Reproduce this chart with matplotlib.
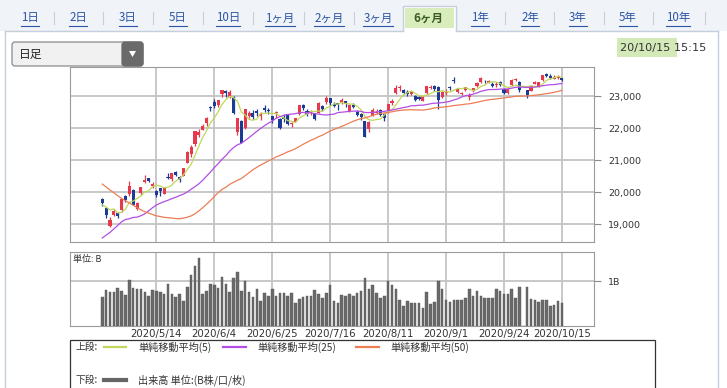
import numpy as np
import pandas as pd
import matplotlib
matplotlib.use('Agg')
import matplotlib.pyplot as plt
from matplotlib.patches import Rectangle, FancyBboxPatch, Polygon
from matplotlib.lines import Line2D
from matplotlib.transforms import IdentityTransform

JP = ['Noto Sans CJK JP', 'DejaVu Sans']
plt.rcParams['font.family'] = ['DejaVu Sans', 'Noto Sans CJK JP']

# ---------------- data ----------------
dates = ['4/20','4/21','4/22','4/23','4/24','4/27','4/28','4/30','5/1','5/7','5/8','5/11','5/12','5/13',
         '5/14','5/15','5/18','5/19','5/20','5/21','5/22','5/25','5/26','5/27','5/28','5/29','6/1','6/2','6/3',
         '6/4','6/5','6/8','6/9','6/10','6/11','6/12','6/15','6/16','6/17','6/18','6/19','6/22','6/23','6/24',
         '6/25','6/26','6/29','6/30','7/1','7/2','7/3','7/6','7/7','7/8','7/9','7/10','7/13','7/14','7/15',
         '7/16','7/17','7/20','7/21','7/22','7/27','7/28','7/29','7/30','7/31','8/3','8/4','8/5','8/6','8/7',
         '8/11','8/12','8/13','8/14','8/17','8/18','8/19','8/20','8/21','8/24','8/25','8/26','8/27','8/28','8/31',
         '9/1','9/2','9/3','9/4','9/7','9/8','9/9','9/10','9/11','9/14','9/15','9/16','9/17','9/18','9/23',
         '9/24','9/25','9/28','9/29','9/30','10/1','10/2','10/5','10/6','10/7','10/8','10/9','10/12','10/13','10/14',
         '10/15']

opens = [19783,19522,18957,19280,19341,19434,19880,19947,20069,19468,19987,20333,20437,20187,
         20049,20120,19959,20470,20419,20622,20475,20505,20919,21179,21520,21800,21954,22164,22664,
         22827,22722,23052,23170,22979,22984,21889,22208,22003,22366,22468,22525,22370,22620,22576,
         22367,22457,22297,22339,22439,22113,22197,22430,22720,22528,22458,22443,22469,22690,22802,
         22931,22739,22775,22780,22833,22520,22730,22515,22425,22209,21960,22381,22474,22567,22442,
         22520,22781,23085,23257,23199,23120,23050,23008,22973,22850,23082,23265,23322,23275,22959,
         23090,23278,23488,23115,23052,23182,22967,23158,23319,23423,23480,23417,23366,23328,23440,
         23230,23089,23346,23494,23445,None,23178,23152,23375,23300,23501,23676,23625,23542,23560,
         23549]
highs = [19836,19551,19220,19493,19395,19783,19912,20365,20099,19701,20179,20534,20460,20317,
         20086,20140,20162,20588,20615,20673,20507,20751,21300,21469,21916,21968,22128,22338,22697,
         22907,22877,23185,23178,23185,23010,22320,22262,22582,22547,22578,22602,22497,22710,22617,
         22381,22520,22319,22437,22446,22190,22323,22724,22765,22582,22561,22478,22800,22733,23008,
         22951,22823,22790,22935,22852,22766,22782,22553,22459,22236,22225,22616,22599,22598,22469,
         22757,22920,23338,23338,23220,23172,23157,23024,23006,22990,23306,23338,23350,23309,23163,
         23210,23302,23580,23245,23114,23291,23100,23251,23432,23582,23505,23492,23429,23422,23456,
         23256,23237,23534,23559,23459,None,23200,23328,23468,23440,23647,23725,23685,23642,23664,
         23574]
lows = [19563,19215,18917,19253,19188,19398,19703,19873,19607,19448,19908,20282,20323,20133,
        19853,19890,19935,20406,20363,20495,20333,20497,20914,21103,21429,21713,21937,22076,22527,
        22622,22657,22980,22954,22935,22448,21787,21529,21976,22312,22279,22384,22245,22504,22438,
        22161,22320,21963,22177,22102,22042,22182,22424,22567,22388,22396,22248,22457,22544,22757,
        22723,22654,22576,22764,22662,22496,22615,22373,22259,21710,21894,22374,22434,22386,22213,
        22467,22707,23076,23149,23060,23008,23020,22835,22888,22830,23056,23230,23150,22604,22940,
        23043,23188,23411,23089,23020,23141,22878,23128,23291,23413,23390,23402,23280,23290,23319,
        23062,23073,23325,23468,23136,None,22948,23145,23361,23277,23479,23591,23520,23530,23521,
        23461]
closes = [19669,19281,19138,19429,19262,19783,19771,20194,19619,19675,20179,20391,20366,20267,
          19915,20037,20134,20433,20595,20552,20388,20742,21271,21419,21916,21878,22062,22326,22614,
          22696,22864,23178,23091,23125,22473,22305,21531,22582,22456,22355,22479,22437,22549,22534,
          22260,22512,21995,22288,22122,22146,22306,22714,22615,22439,22529,22291,22785,22587,22946,
          22770,22696,22717,22884,22752,22716,22657,22397,22339,21710,22195,22574,22515,22418,22330,
          22750,22844,23250,23289,23097,23051,23111,22881,22920,22986,23297,23291,23209,22883,23140,
          23138,23247,23466,23205,23090,23274,23033,23235,23406,23559,23455,23476,23319,23360,23346,
          23088,23205,23512,23539,23185,None,23030,23312,23434,23423,23647,23620,23559,23602,23627,
          23507]
# closes before the window (needed for the moving averages at the left edge)
prior_closes = [23874,23828,23686,23861,23828,23688,23523,23194,23401,23479,23387,22605,22426,21948,
                21143,21344,21083,21100,21329,20750,19699,19867,19416,18560,17431,17002,17012,16727,
                16553,16888,18092,19547,18665,19389,19085,18917,18065,17819,17820,18576,18950,19353,
                19346,19499,19043,19639,19550,19290,19897]
volume_b = [0.65,0.81,0.76,0.75,0.85,0.79,0.70,1.03,0.86,0.84,0.83,0.77,0.68,0.81,
            0.79,0.77,0.72,0.94,0.72,0.64,0.72,0.56,0.87,1.15,1.35,1.54,0.72,0.79,0.94,
            0.91,0.86,1.11,0.94,0.77,1.09,1.22,0.79,1.02,0.75,0.65,0.83,0.56,0.73,0.68,
            0.83,0.68,0.74,0.74,0.68,0.73,0.52,0.61,0.65,0.66,0.66,0.81,0.72,0.63,0.74,
            0.91,0.56,0.50,0.69,0.66,0.72,0.68,0.73,0.79,1.07,0.84,0.91,0.73,0.63,0.68,
            1.00,0.91,0.84,0.59,0.44,0.56,0.52,0.52,0.52,0.40,0.77,0.48,0.53,1.00,0.83,
            0.59,0.53,0.58,0.59,0.58,0.63,0.84,0.67,0.79,0.66,0.62,0.63,0.62,0.82,0.79,
            0.72,0.72,0.82,0.62,0.88,0.0,0.87,0.61,0.58,0.53,0.58,0.58,0.44,0.46,0.56,
            0.50]
tick_dates = ['5/14','6/4','6/25','7/16','8/11','9/1','9/24','10/15']
price_ticks = [19000, 20000, 21000, 22000, 23000]
ma_windows = [5, 25, 50]
ma_labels = ['単純移動平均(5)', '単純移動平均(25)', '単純移動平均(50)']
tab_labels = ['1日','2日','3日','5日','10日','1ヶ月','2ヶ月','3ヶ月','6ヶ月','1年','2年','3年','5年','10年']
selected_tab = '6ヶ月'

# ---------------- styles ----------------
UP = '#e63a4c'
DOWN = '#1c3b96'
MA_COLORS = ['#bfd75a', '#b24ee6', '#ec7d55']
GRID = '#c4c4c4'
VOLC = '#6a6a6a'

W, H = 727, 388
fig = plt.figure(figsize=(W / 100, H / 100), dpi=100)
fig.patch.set_facecolor('white')

def fx(x): return x / W
def fy(y): return 1 - y / H

def frect(x0, y0, x1, y1, **kw):
    r = Rectangle((fx(x0), fy(y1)), (x1 - x0) / W, (y1 - y0) / H, transform=fig.transFigure, **kw)
    fig.add_artist(r)
    return r

def fline(xs, ys, **kw):
    fig.add_artist(Line2D([fx(v) for v in xs], [fy(v) for v in ys], transform=fig.transFigure, **kw))

def ftext(x, y, s, **kw):
    return fig.text(fx(x), fy(y), s, **kw)

# ---- page chrome ----
frect(0, 0, W, 31, fc='#f0f3f7', ec='none', zorder=0)
fline([5, 403], [31, 31], color='#c5cfdc', lw=1)
fline([456, 718], [31, 31], color='#c5cfdc', lw=1)
fline([5, 5], [31, H], color='#c5cfdc', lw=1)
fline([718, 718], [31, H], color='#c5cfdc', lw=1)
frect(403, 6, 456, 31.5, fc='white', ec='none', zorder=1)
fline([403, 403, 456, 456], [31, 6, 6, 31], color='#c5cfdc', lw=1)
frect(405, 8, 454, 28, fc='#d8ecbc', ec='none', zorder=1)

tab_x = [30, 78, 128, 178, 228, 280, 329, 378, 428, 480, 530, 578, 628, 678]
sep_x = [54, 103, 153, 203, 253, 304, 354, None, None, 505, 554, 604, 653, 705]
fig.canvas.draw()
renderer = fig.canvas.get_renderer()
for lab, xc, sx in zip(tab_labels, tab_x, sep_x):
    if lab == selected_tab:
        ftext(xc, 18, lab, ha='center', va='center', fontsize=8.3, family=JP,
              color='#3b5a22', fontweight='bold', zorder=3)
    else:
        t = ftext(xc, 18, lab, ha='center', va='center', fontsize=8.3, family=JP,
                  color='#2b55a6', zorder=3)
        bb = t.get_window_extent(renderer)
        fline([bb.x0, bb.x1], [25.5, 25.5], color='#2b55a6', lw=0.8)
    if sx is not None:
        fline([sx, sx], [12, 24], color='#c9cfd8', lw=0.8)

# dropdown
idt = IdentityTransform()
fig.add_artist(FancyBboxPatch((12, H - 66), 131, 24, boxstyle='round,pad=0,rounding_size=3',
                              fc='#f1f1f1', ec='#8a8a8a', lw=0.9, transform=idt))
fig.add_artist(FancyBboxPatch((122, H - 66), 21, 24, boxstyle='round,pad=0,rounding_size=3',
                              fc='#6a6a6a', ec='#6a6a6a', lw=0.9, transform=idt))
fig.add_artist(Polygon([[129, H - 51], [136, H - 51], [132.5, H - 57]], closed=True,
                       fc='white', ec='none', transform=idt))
ftext(19, 54, '日足', ha='left', va='center', fontsize=8.5, family=JP, color='#222222')

# timestamp
frect(617, 38, 677, 57, fc='#d3eab8', ec='none', zorder=0)
ftext(620, 47.5, '20/10/15 15:15', ha='left', va='center', fontsize=8.1, color='#333333')

# ---------------- axes ----------------
L, R = 70, 594
ax = fig.add_axes([fx(L), fy(242), (R - L) / W, (242 - 67) / H])
axv = fig.add_axes([fx(L), fy(325.5), (R - L) / W, (325.5 - 252) / H])

n = len(dates)
x = np.arange(n)
tick_pos = [dates.index(d) for d in tick_dates]
tick_lab = ['2020/' + d for d in tick_dates]

for a in (ax, axv):
    a.set_xlim(-8.36, 127.3)
    for s in a.spines.values():
        s.set_color('#9a9a9a')
        s.set_linewidth(0.8)
    a.set_xticks(tick_pos)
    a.grid(True, color=GRID, lw=1.3)
    a.set_axisbelow(True)
    a.yaxis.tick_right()

# candles
for i in range(n):
    o, h, l, c = opens[i], highs[i], lows[i], closes[i]
    if o is None:
        continue
    col = UP if c >= o else DOWN
    ax.vlines(i, l, h, color=col, lw=0.9, zorder=3)
    body = max(abs(c - o), 16)
    ax.bar(i, body, bottom=min(o, c), width=0.8, color=col, lw=0, zorder=4)

# moving averages
valid = [i for i in range(n) if closes[i] is not None]
series = pd.Series(prior_closes + [closes[i] for i in valid], dtype=float)
for w, colr in zip(ma_windows, MA_COLORS):
    ma = series.rolling(w).mean().iloc[len(prior_closes):].to_numpy()
    ax.plot(valid, ma, color=colr, lw=0.9, zorder=5)

ax.set_ylim(18452, 23904)
ax.set_yticks(price_ticks)
ax.set_yticklabels([f'{v:,}' for v in price_ticks])
ax.tick_params(axis='y', length=5, width=0.8, color='#8a8a8a', labelsize=6.8,
               labelcolor='#333333', pad=5)
ax.tick_params(axis='x', length=0, labelbottom=False)

# volume
axv.bar(x, volume_b, width=0.66, color=VOLC, edgecolor='#555555', lw=0.3, zorder=3)
axv.set_ylim(0, 1.67)
axv.set_yticks([1.0])
axv.set_yticklabels(['1B'])
axv.tick_params(axis='y', length=5, width=0.8, color='#8a8a8a', labelsize=6.8,
                labelcolor='#333333', pad=5)
axv.set_xticklabels(tick_lab)
axv.tick_params(axis='x', length=0, labelsize=7.3, labelcolor='#333333', pad=2.5)
axv.text(0.006, 0.9, '単位: B', transform=axv.transAxes, fontsize=6.5, family=JP,
         color='#333333', ha='left', va='center')

# ---------------- legend box ----------------
frect(70, 340, 655, 392, fc='none', ec='#333333', lw=0.9)
ftext(76, 347, '上段:', ha='left', va='center', fontsize=7, family=JP, color='#333333')
lx = [(104, 126, 138), (223, 246, 257), (356, 379, 390)]
for (a0, a1, tx), colr, lab in zip(lx, MA_COLORS, ma_labels):
    fline([a0, a1], [347, 347], color=colr, lw=1.6)
    ftext(tx, 347, lab, ha='left', va='center', fontsize=7.3, family=JP, color='#333333')
ftext(76, 380, '下段:', ha='left', va='center', fontsize=7, family=JP, color='#333333')
fline([104, 126], [380, 380], color='#666666', lw=3)
ftext(138, 380, '出来高 単位:(B株/口/枚)', ha='left', va='center', fontsize=7.3, family=JP,
      color='#333333')

fig.savefig('out.png', dpi=100)
